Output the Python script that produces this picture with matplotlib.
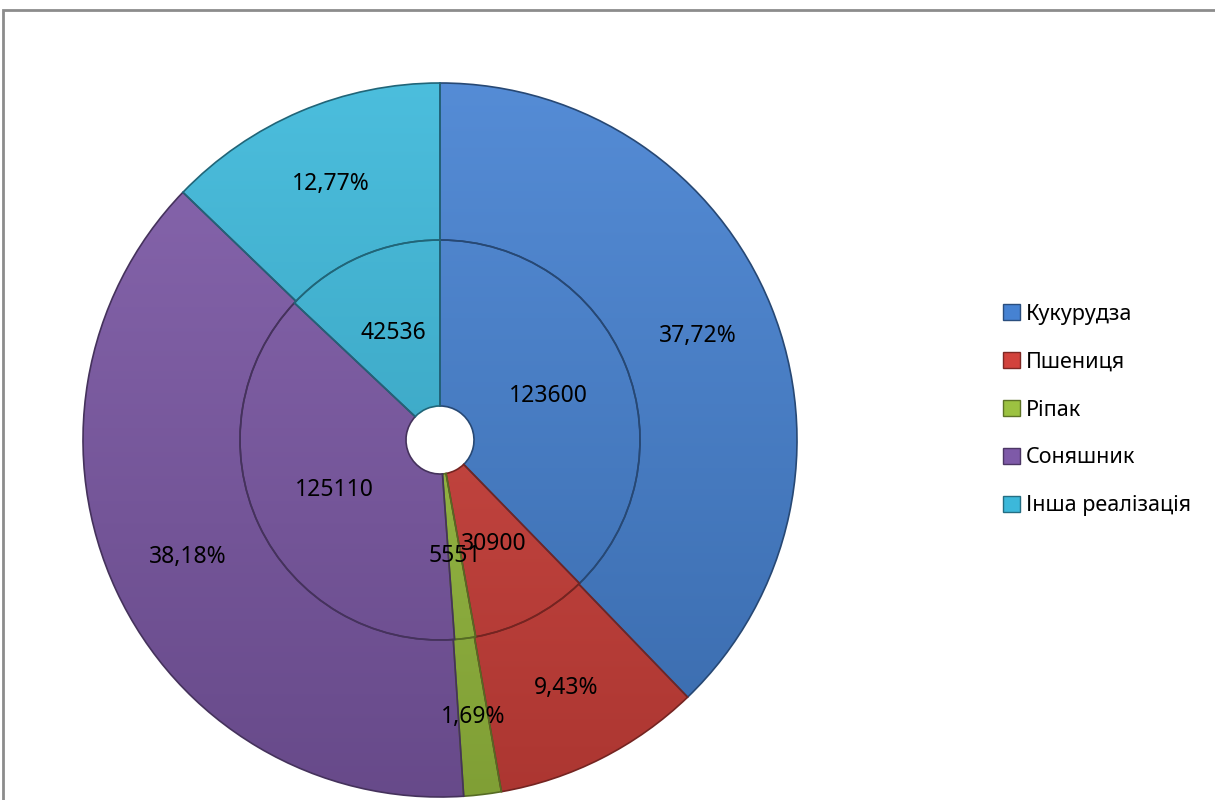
import numpy as np
import matplotlib.pyplot as plt
from matplotlib.patches import Rectangle, Patch
from matplotlib.colors import to_rgb

plt.rcParams['font.family'] = ['Noto Sans', 'DejaVu Sans']

#%% data
categories = ['Кукурудза', 'Пшениця', 'Ріпак', 'Соняшник', 'Інша реалізація']
inner_values = [123600, 30900, 5551, 125110, 42536]
outer_pct = [37.72, 9.43, 1.69, 38.18, 12.77]
colors = ['#4682d2', '#d2423c', '#9cc241', '#7e5aa8', '#3cb8da']

#%% figure, pixel coordinates
W, H = 1215, 800
fig = plt.figure(figsize=(W / 100, H / 100), dpi=100)
ax = fig.add_axes([0, 0, 1, 1])

cx, cy = 440, H - 440
R_out, R_mid, R_hole = 357, 200, 34


def shade(c, f):
    r, g, b = to_rgb(c)
    if f >= 0:
        return (r + (1 - r) * f, g + (1 - g) * f, b + (1 - b) * f)
    return (r * (1 + f), g * (1 + f), b * (1 + f))


def ring(values, radius, width):
    wedges, _ = ax.pie(values, radius=radius, center=(cx, cy), startangle=90,
                       counterclock=False, colors=colors,
                       wedgeprops=dict(width=width, linewidth=1.2))
    for w, c in zip(wedges, colors):
        w.set_edgecolor(shade(c, -0.45))
        # vertical gradient, light at top, darker at bottom
        top, bot = np.array(shade(c, 0.08)), np.array(shade(c, -0.18))
        t = np.linspace(0, 1, 256)[:, None]
        grad = top * (1 - t[..., None]) + bot * t[..., None]
        grad = np.repeat(grad, 2, axis=1)
        im = ax.imshow(grad, extent=(cx - R_out, cx + R_out, cy - R_out, cy + R_out),
                       origin='upper', aspect='auto', zorder=w.get_zorder() + 0.1)
        im.set_clip_path(w)
        # edge drawn on top
        w.set_zorder(w.get_zorder() + 0.2)
        w.set_facecolor('none')
    return wedges


outer = ring(outer_pct, R_out, R_out - R_mid)
inner = ring(inner_values, R_mid, R_mid - R_hole)

fs = 16.5
for w, v in zip(inner, inner_values):
    a = np.deg2rad((w.theta1 + w.theta2) / 2)
    r = (R_mid + R_hole) / 2
    ax.text(cx + r * np.cos(a), cy + r * np.sin(a), f'{v}', ha='center', va='center',
            fontsize=fs, color='black', zorder=10)
for w, p in zip(outer, outer_pct):
    a = np.deg2rad((w.theta1 + w.theta2) / 2)
    r = (R_out + R_mid) / 2
    ax.text(cx + r * np.cos(a), cy + r * np.sin(a), f'{p:.2f}%'.replace('.', ','),
            ha='center', va='center', fontsize=fs, color='black', zorder=10)

ax.set_xlim(0, W)
ax.set_ylim(0, H)
ax.set_aspect('equal')
ax.axis('off')

# chart frame
fig.patches.append(Rectangle((3 / W, -0.1), 1.1, (H - 10) / H + 0.1, transform=fig.transFigure,
                             fill=False, edgecolor='#8c8c8c', linewidth=2))

handles = [Patch(facecolor=c, edgecolor=shade(c, -0.4)) for c in colors]
fig.legend(handles, categories, loc='center left', bbox_to_anchor=(984 / W, (H - 410) / H),
           frameon=False, fontsize=15.5, handlelength=0.75, handleheight=0.75,
           handletextpad=0.3, labelspacing=1.25)

fig.savefig('out.png', dpi=100)
